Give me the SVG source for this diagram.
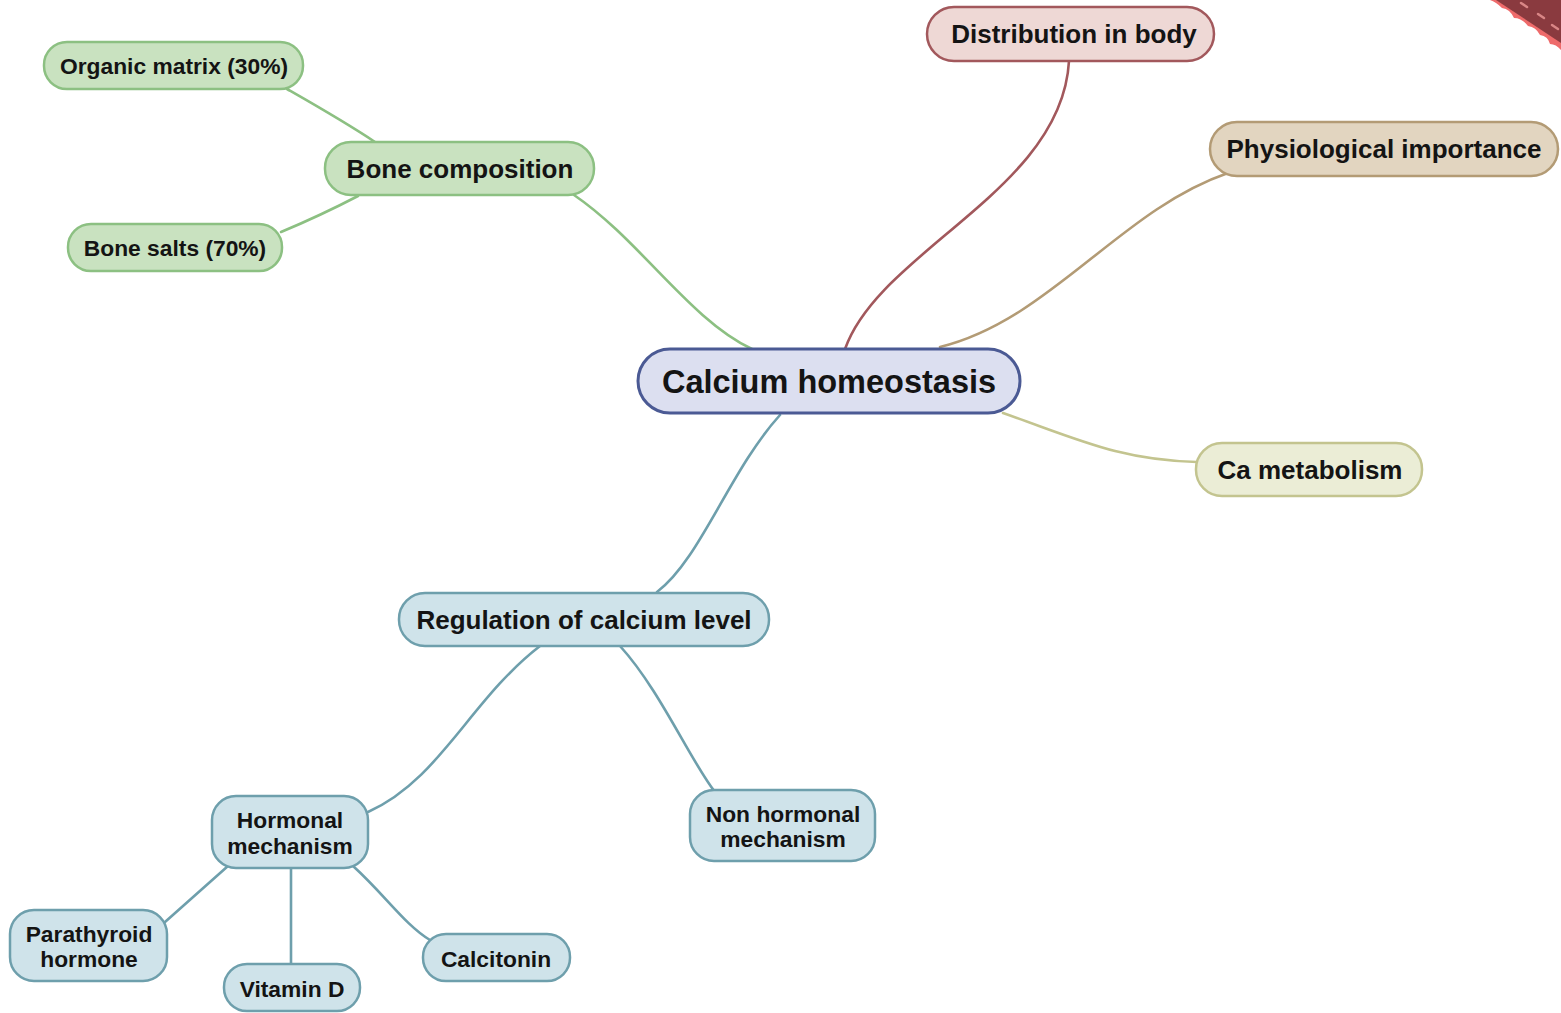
<svg xmlns="http://www.w3.org/2000/svg" width="1561" height="1013" viewBox="0 0 1561 1013">
  <style>
    .lbl { font-family: "Liberation Sans", Arial, sans-serif; font-weight: bold; fill: #141414; text-anchor: middle; }
    .t21 { font-size: 22.8px; }
    .t24 { font-size: 26px; }
    .t30 { font-size: 32.5px; }
    .edge { fill: none; stroke-width: 2.6; stroke-linecap: round; }
    .g-green { fill: #c9e2c0; stroke: #8cc082; stroke-width: 2.5; }
    .g-blue { fill: #cfe3ea; stroke: #6e9fac; stroke-width: 2.5; }
    .g-red { fill: #eed8d5; stroke: #a2585c; stroke-width: 2.5; }
    .g-tan { fill: #e2d5c0; stroke: #b39b75; stroke-width: 2.5; }
    .g-olive { fill: #ebedd6; stroke: #c3c48f; stroke-width: 2.5; }
    .g-root { fill: #dcdff0; stroke: #4b5a94; stroke-width: 3; }
  </style>
  <rect width="1561" height="1013" fill="#ffffff"/>

  <!-- corner ribbon -->
  <g id="corner-ribbon">
    <path d="M1490,0 L1561,0 L1561,50 Q1556,44 1550,44 Q1548,36 1540,35 Q1536,27 1528,26 Q1522,18 1514,18 Q1510,9 1502,8 Q1496,2 1490,0 Z" fill="#ee6b6b"/>
    <path d="M1496,0 L1561,0 L1561,43 Z" fill="#8a3a3f"/>
    <g stroke="#d98686" stroke-width="2.5" stroke-linecap="round">
      <line x1="1521" y1="3" x2="1527" y2="7"/>
      <line x1="1538" y1="14" x2="1544" y2="18"/>
      <line x1="1552" y1="25" x2="1558" y2="29"/>
    </g>
  </g>

  <!-- connectors -->
  <g id="connectors">
    <path class="edge" stroke="#8cc082" d="M574,195 C640,240 690,320 752,349"/>
    <path class="edge" stroke="#8cc082" d="M287,89 C315,105 345,122 375,142"/>
    <path class="edge" stroke="#8cc082" d="M281,232 C305,222 335,208 358,196"/>
    <path class="edge" stroke="#a2585c" d="M1069,61 C1062,190 880,250 845,349"/>
    <path class="edge" stroke="#b39b75" d="M1228,173 C1120,210 1050,320 940,347"/>
    <path class="edge" stroke="#c3c48f" d="M1003,413 C1080,440 1120,460 1197,462"/>
    <path class="edge" stroke="#6e9fac" d="M780,415 C730,470 700,560 657,592"/>
    <path class="edge" stroke="#6e9fac" d="M540,646 C470,700 440,780 368,812"/>
    <path class="edge" stroke="#6e9fac" d="M620,646 C660,690 690,760 715,792"/>
    <path class="edge" stroke="#6e9fac" d="M228,866 L165,922"/>
    <path class="edge" stroke="#6e9fac" d="M291,868 L291,963"/>
    <path class="edge" stroke="#6e9fac" d="M353,866 C385,895 405,925 430,940"/>
  </g>

  <!-- nodes -->
  <g id="calcium-homeostasis">
    <rect class="g-root" x="638" y="349" width="382" height="64" rx="32"/>
    <text class="lbl t30" x="829" y="393">Calcium homeostasis</text>
  </g>
  <g id="bone-composition">
    <rect class="g-green" x="325" y="142" width="269" height="53" rx="26"/>
    <text class="lbl t24" x="460" y="178">Bone composition</text>
  </g>
  <g id="organic-matrix">
    <rect class="g-green" x="44" y="42" width="259" height="47" rx="23"/>
    <text class="lbl t21" x="174" y="74">Organic matrix (30%)</text>
  </g>
  <g id="bone-salts">
    <rect class="g-green" x="68" y="224" width="214" height="47" rx="23"/>
    <text class="lbl t21" x="175" y="256">Bone salts (70%)</text>
  </g>
  <g id="distribution-in-body">
    <rect class="g-red" x="927" y="7" width="287" height="54" rx="27"/>
    <text class="lbl t24" x="1074" y="43">Distribution in body</text>
  </g>
  <g id="physiological-importance">
    <rect class="g-tan" x="1210" y="122" width="348" height="54" rx="27"/>
    <text class="lbl t24" x="1384" y="158">Physiological importance</text>
  </g>
  <g id="ca-metabolism">
    <rect class="g-olive" x="1196" y="443" width="226" height="53" rx="26"/>
    <text class="lbl t24" x="1310" y="479">Ca metabolism</text>
  </g>
  <g id="regulation-of-calcium-level">
    <rect class="g-blue" x="399" y="593" width="370" height="53" rx="26"/>
    <text class="lbl t24" x="584" y="629">Regulation of calcium level</text>
  </g>
  <g id="hormonal-mechanism">
    <rect class="g-blue" x="212" y="796" width="156" height="72" rx="24"/>
    <text class="lbl t21" x="290" y="828">Hormonal</text>
    <text class="lbl t21" x="290" y="854">mechanism</text>
  </g>
  <g id="non-hormonal-mechanism">
    <rect class="g-blue" x="690" y="790" width="185" height="71" rx="24"/>
    <text class="lbl t21" x="783" y="822">Non hormonal</text>
    <text class="lbl t21" x="783" y="847">mechanism</text>
  </g>
  <g id="parathyroid-hormone">
    <rect class="g-blue" x="10" y="910" width="157" height="71" rx="24"/>
    <text class="lbl t21" x="89" y="942">Parathyroid</text>
    <text class="lbl t21" x="89" y="967">hormone</text>
  </g>
  <g id="vitamin-d">
    <rect class="g-blue" x="224" y="964" width="136" height="47" rx="23"/>
    <text class="lbl t21" x="292" y="997">Vitamin D</text>
  </g>
  <g id="calcitonin">
    <rect class="g-blue" x="423" y="934" width="147" height="47" rx="23"/>
    <text class="lbl t21" x="496" y="967">Calcitonin</text>
  </g>
</svg>
